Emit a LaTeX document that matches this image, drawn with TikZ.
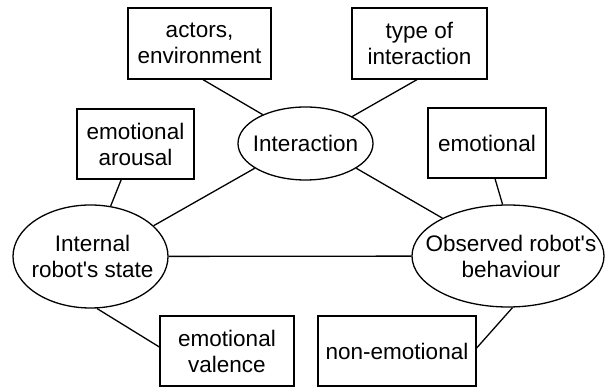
\documentclass[tikz,border=0pt]{standalone}
\usepackage{fontspec}
\setmainfont{Liberation Sans}
\usetikzlibrary{shapes.geometric,calc}

\begin{document}
\begin{tikzpicture}[x=1pt,y=1pt,
  every node/.style={font=\fontsize{22.5}{26}\selectfont},
  box/.style={draw, rectangle, line width=1.3pt, inner sep=0pt, align=center},
  oval/.style={draw, ellipse, line width=1.3pt, inner sep=0pt},
  link/.style={line width=1.3pt}]
  % page frame
  \useasboundingbox[fill=white] (0,0) rectangle (606,387);

  % attribute boxes
  \node[box, minimum width=143, minimum height=71] (actors)  at (199.5,343.5) {actors,\\environment};
  \node[box, minimum width=135, minimum height=71] (type)    at (419.5,343.5) {type of\\interaction};
  \node[box, minimum width=117, minimum height=70] (arousal) at (135.5,243)   {emotional\\arousal};
  \node[box, minimum width=118, minimum height=70] (emo)     at (487,244)     {emotional};
  \node[box, minimum width=134, minimum height=70] (valence) at (227,36)      {emotional\\valence};
  \node[box, minimum width=158, minimum height=70] (nonemo)  at (397,36)      {non-emotional};

  % main entities
  \node[oval, minimum width=135, minimum height=73,
        label={[align=center]center:Interaction}] (inter) at (305.5,243.5) {};
  \node[oval, minimum width=155, minimum height=103,
        label={[align=center, xshift=2pt]center:Internal\\robot\textquotesingle s state}] (internal) at (90.5,130.5) {};
  \node[oval, minimum width=192, minimum height=102,
        label={[align=center, xshift=3pt]center:Observed robot\textquotesingle s\\behaviour}] (observed) at (508,131) {};

  % connectors
  \draw[link] ($(actors.south)+(3.5,0)$) -- (inter.146.8);
  \draw[link] ($(type.south)+(-2.5,0)$) -- (inter.30.4);
  \draw[link] (arousal) -- (internal);
  \draw[link] (inter.206.8) -- (internal.26);
  \draw[link] (inter.-26.3) -- (observed.150);
  \draw[link] ($(emo.south)+(8,0)$) -- (observed.96.8);
  \draw[link] (internal) -- (observed);
  \draw[link] (internal.-83) -- ($(valence.west)+(0,4)$);
  \draw[link] (observed.-85.5) -- ($(nonemo.east)+(0,3)$);
\end{tikzpicture}
\end{document}
